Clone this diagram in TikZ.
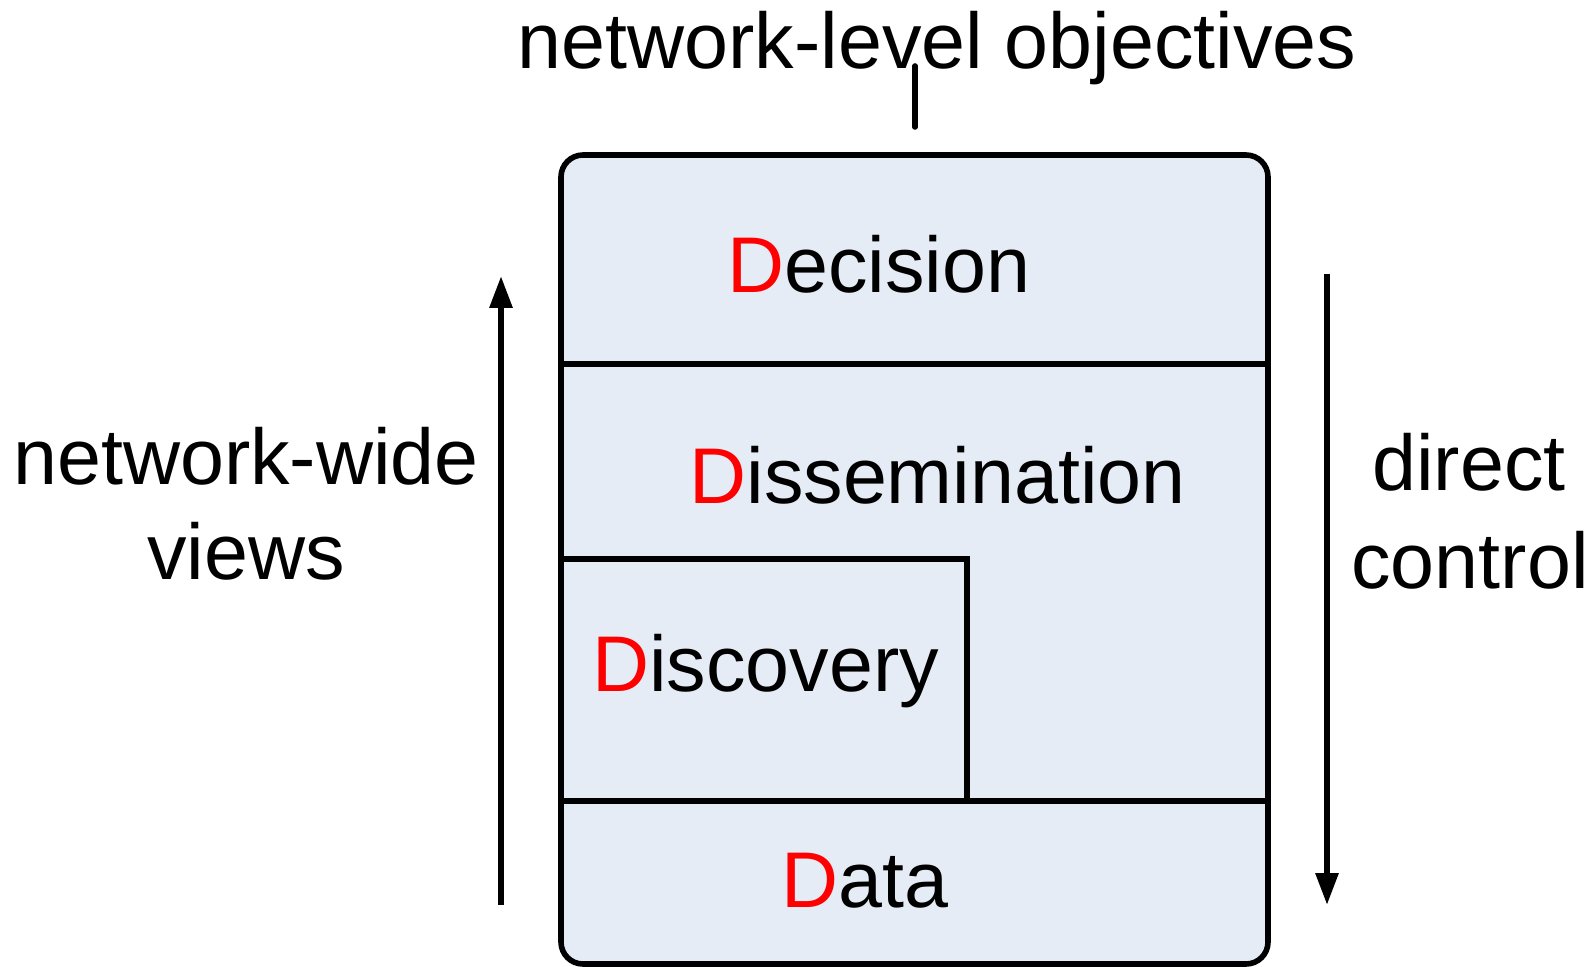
\documentclass[tikz,border=0pt]{standalone}
\usepackage{fontspec}
\setmainfont{Liberation Sans}
\usetikzlibrary{arrows.meta}
\definecolor{layerfill}{RGB}{230,236,246}
\definecolor{dred}{RGB}{255,0,0}
\begin{document}
\begin{tikzpicture}[x=0.5pt,y=-0.5pt,
  lbl/.style={inner sep=0pt, font=\fontsize{39.5}{47}\selectfont},
  ln/.style={line width=2.8pt},
  arr/.style={line width=3pt, -{Triangle[width=11pt,length=16pt]}}]
\useasboundingbox (0,0) rectangle (1594,967);
% stack
\draw[ln, fill=layerfill, rounded corners=11pt] (561,155) rectangle (1268,964);
\draw[ln] (561,364) -- (1268,364);
\draw[ln] (561,559) -- (967,559) -- (967,801);
\draw[ln] (561,801) -- (1268,801);
% layer labels
\node[lbl, anchor=base west] (dec) at (727,293) {{\color{dred}D}ecision};
\node[lbl, anchor=base west] (dis) at (689,503) {{\color{dred}D}issemination};
\node[lbl, anchor=base west] (disc) at (592,691) {{\color{dred}D}iscovery};
\node[lbl, anchor=base west] (dat) at (781,907) {{\color{dred}D}ata};
% title
\node[lbl, anchor=base] (title) at (937,69) {network-level objectives};
\coordinate (tickA) at (915,66);
\coordinate (tickB) at (915,127);
\draw[ln, line cap=round] (tickA) -- (tickB);
% side labels
\node[lbl, anchor=base] (nw1) at (246,485) {network-wide};
\node[lbl, anchor=base] (nw2) at (246,579) {views};
\node[lbl, anchor=base] (dc1) at (1469,490) {direct};
\node[lbl, anchor=base] (dc2) at (1470,588) {control};
% arrows
\coordinate (lb) at (501,905);
\coordinate (lt) at (501,276);
\coordinate (rt) at (1327,274);
\coordinate (rb) at (1327,905);
\draw[arr] (lb) -- (lt);
\draw[arr] (rt) -- (rb);
\end{tikzpicture}
\end{document}
